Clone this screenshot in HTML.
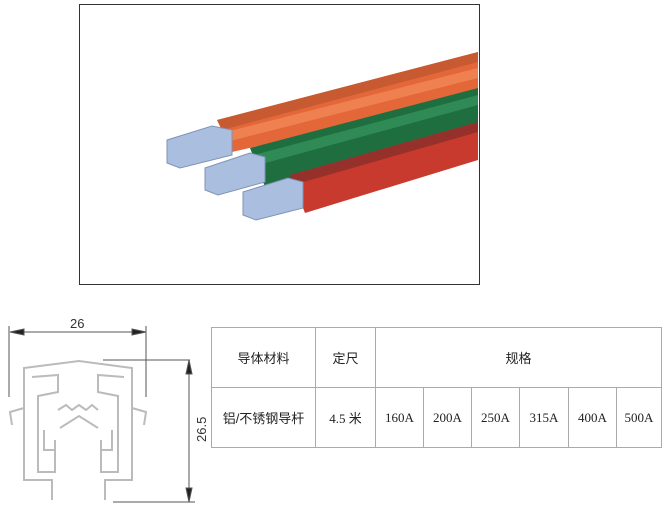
<!DOCTYPE html>
<html><head><meta charset="utf-8"><style>
body{margin:0;background:#fff;width:666px;height:507px;overflow:hidden;position:relative;font-family:"Liberation Serif","Noto Serif CJK SC",serif}
table{position:absolute;left:211px;top:327px;border-collapse:collapse;width:451px;height:121px}
td{border:1px solid #aaa;text-align:center;font-size:13px;color:#222;padding:0}
.c{font-family:"Liberation Sans","Noto Sans CJK SC",sans-serif}
</style></head><body>
<svg width="666" height="507" style="position:absolute;left:0;top:0">
<rect x="79.5" y="4.5" width="400" height="280" fill="#fff" stroke="#333"/>
<!-- orange -->
<polygon points="217,120 478,52 478,96 232,152" fill="#e4673a"/>
<polygon points="217,120 478,52 478,62 222,130" fill="#c85a32"/>
<polygon points="222,133 478,68 478,78 226,142" fill="#ef8050"/>
<!-- green -->
<polygon points="250,148 478,88 478,125 265,187" fill="#1e6e40"/>
<polygon points="254,155 478,95 478,105 258,165" fill="#2f8a55"/>
<!-- red -->
<polygon points="290,175 478,122 478,160 305,213" fill="#c83a2e"/>
<polygon points="290,175 478,122 478,132 293,185" fill="#96302a"/>
<!-- aluminium -->
<g fill="#aabfe0" stroke="#7f93b6">
<polygon points="167,140 212,126 232,130 232,155 180,168 167,163"/>
<polygon points="205,168 250,153 265,157 265,182 218,195 205,190"/>
<polygon points="243,192 288,178 303,182 303,208 256,220 243,215"/>
</g>
<!-- drawing -->
<g stroke="#555" fill="none" stroke-width="1">
<line x1="10" y1="332" x2="146" y2="332"/>
<polygon points="10,332 24,329 24,335" fill="#222"/>
<polygon points="146,332 132,329 132,335" fill="#222"/>
<line x1="9" y1="326" x2="9" y2="397"/>
<line x1="146" y1="326" x2="146" y2="397"/>
<line x1="103" y1="360" x2="190" y2="360"/>
<line x1="113" y1="502" x2="195" y2="502"/>
<line x1="189" y1="360" x2="189" y2="502"/>
<polygon points="189,360 186,374 192,374" fill="#222"/>
<polygon points="189,502 186,488 192,488" fill="#222"/>
</g>
<g stroke="#bbb" fill="none" stroke-width="2">
<path d="M24,372 L24,368 L79,361 L132,368 L132,372 M24,372 L24,480 L52,480 L52,500 M132,372 L132,480 L105,480 L105,500"/>
<path d="M32,377 L58,375 L58,392 L38,396 L38,472 L55,472 L55,440 M124,377 L98,375 L98,392 L118,396 L118,472 L101,472 L101,440"/>
<path d="M58,410 L66,405 L72,410 L79,405 L86,410 L92,405 L98,410 M60,428 L79,416 L98,428"/>
<path d="M24,408 L10,412 L12,425 M132,408 L146,412 L144,425"/>
<path d="M44,430 L44,450 L55,450 M112,430 L112,450 L101,450"/>
</g>
<text x="70" y="328" font-family="Liberation Sans,sans-serif" font-size="13" fill="#333">26</text>
<text transform="translate(206,442) rotate(-90)" font-family="Liberation Sans,sans-serif" font-size="13" fill="#333">26.5</text>
</svg>
<table>
<tr style="height:60px"><td class="c" style="width:103px">导体材料</td><td class="c" style="width:59px">定尺</td><td class="c" colspan="6">规格</td></tr>
<tr><td class="c">铝/不锈钢导杆</td><td>4.5 <span class="c">米</span></td><td style="width:47px">160A</td><td style="width:47px">200A</td><td style="width:47px">250A</td><td style="width:48px">315A</td><td style="width:47px">400A</td><td>500A</td></tr>
</table>
</body></html>
